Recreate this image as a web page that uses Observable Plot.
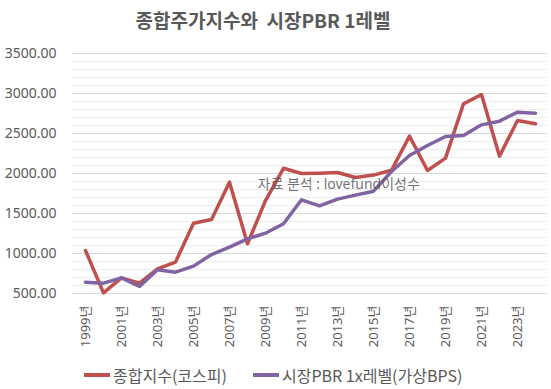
<!DOCTYPE html>
<html>
<head>
<meta charset="utf-8">
<script src="https://cdn.jsdelivr.net/npm/d3@7"></script>
<script src="https://cdn.jsdelivr.net/npm/@observablehq/plot@0.6"></script>
<style>
  html, body { margin: 0; padding: 0; background: #fff; }
  #wrap { position: relative; width: 551px; height: 389px; overflow: hidden; font-family: "Noto Sans", "Noto Sans CJK KR", sans-serif; }
  #title { position: absolute; left: 0; top: 0; width: 551px; height: 40px; line-height: 40px; text-align: center; box-sizing: border-box; padding-right: 25px;
    font-family: "Noto Sans CJK KR", sans-serif; font-weight: bold; font-size: 19px; color: #595959; }
  #chart { position: absolute; left: 0; top: 40px; }
  #legend { position: absolute; left: 0; top: 363px; width: 551px; height: 24px; font-size: 16px; color: #595959; font-family: "Noto Sans CJK KR", sans-serif; }
  .item { position: absolute; top: 0; height: 24px; display: flex; align-items: center; white-space: nowrap; }
  .sw { width: 26px; height: 4px; margin-right: 3px; }
</style>
</head>
<body>
<div id="wrap">
  <div id="title">종합주가지수와&nbsp; 시장PBR 1레벨</div>
  <div id="chart"></div>
  <div id="legend"></div>
</div>
<script>
const years = d3.range(1999, 2025).map(String);
const kospi = [1037, 508, 696, 629, 808, 892, 1379, 1425, 1892, 1121, 1662, 2065, 2000, 2004, 2012, 1950, 1980, 2040, 2467, 2037, 2192, 2871, 2987, 2217, 2662, 2621];
const pbr1 = [642, 629, 696, 588, 796, 767, 842, 987, 1079, 1183, 1254, 1371, 1671, 1595, 1680, 1730, 1779, 2025, 2225, 2350, 2462, 2475, 2608, 2654, 2767, 2754];
const seriesNames = ["종합지수(코스피)", "시장PBR 1x레벨(가상BPS)"];
const seriesColors = ["#C0504D", "#8064A2"];
const xTickYears = years.filter((d, i) => i % 2 === 0);
const yMajorTicks = d3.range(500, 3501, 500);
const yMinorTicks = d3.range(500, 3501, 100);
const watermark = "자료 분석 : lovefund이성수";

const data = [];
years.forEach((y, i) => {
  data.push({year: y, value: kospi[i], series: seriesNames[0]});
  data.push({year: y, value: pbr1[i], series: seriesNames[1]});
});

const chart = Plot.plot({
  width: 551,
  height: 320,
  marginTop: 13,
  marginBottom: 67,
  marginLeft: 72,
  marginRight: 4,
  style: {fontFamily: "'Noto Sans', 'Noto Sans CJK KR', sans-serif", color: "#595959", background: "white"},
  x: {type: "point", domain: years, padding: 0.5},
  y: {domain: [500, 3500]},
  color: {domain: seriesNames, range: seriesColors},
  marks: [
    Plot.gridY(yMinorTicks, {stroke: "#EDEDED", strokeOpacity: 1}),
    Plot.gridY(yMajorTicks, {stroke: "#D9D9D9", strokeOpacity: 1}),
    Plot.axisY(yMajorTicks, {tickSize: 0, tickPadding: 16, tickFormat: d3.format(".2f"), fontSize: 14, label: null}),
    Plot.axisX(xTickYears, {tickSize: 0, tickPadding: 12, tickRotate: -90, tickFormat: d => d + "년", fontSize: 13, label: null}),
    Plot.line(data, {x: "year", y: "value", z: "series", stroke: "series", strokeWidth: 3.5, strokeLinejoin: "round", strokeLinecap: "round"}),
    Plot.text([watermark], {frameAnchor: "top-left", dx: 185, dy: 126, textAnchor: "start", fontSize: 14, fill: "#595959", fillOpacity: 0.85})
  ]
});
document.getElementById("chart").appendChild(chart);

const legend = document.getElementById("legend");
const lefts = [84, 253];
seriesNames.forEach((name, i) => {
  const it = document.createElement("div");
  it.className = "item";
  it.style.left = lefts[i] + "px";
  const sw = document.createElement("div");
  sw.className = "sw";
  sw.style.background = seriesColors[i];
  const tx = document.createElement("span");
  tx.textContent = name;
  it.appendChild(sw);
  it.appendChild(tx);
  legend.appendChild(it);
});
</script>
</body>
</html>
